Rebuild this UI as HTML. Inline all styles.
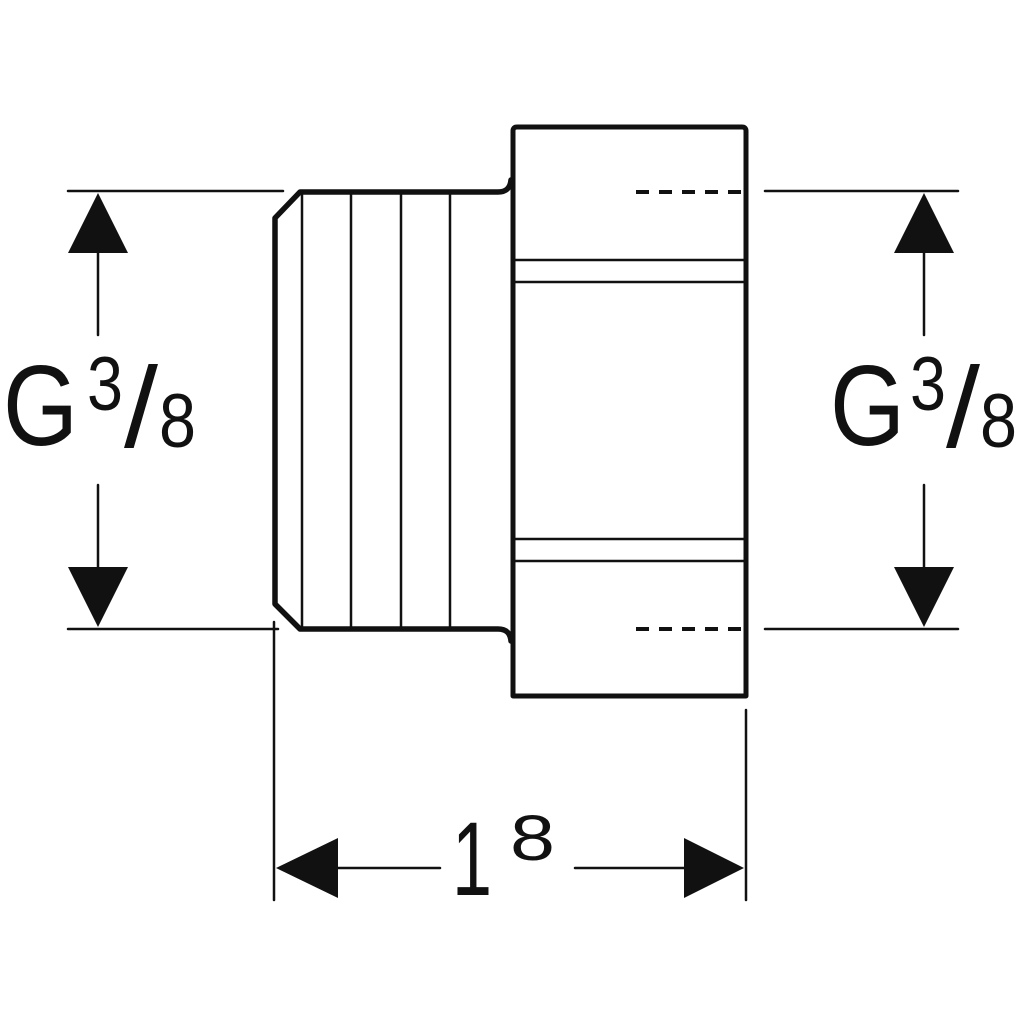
<!DOCTYPE html>
<html><head><style>html,body{margin:0;padding:0;background:#fff;}svg{display:block}</style></head>
<body>
<svg width="1024" height="1024" viewBox="0 0 1024 1024" xmlns="http://www.w3.org/2000/svg" font-family="Liberation Sans, sans-serif" fill="#111">
<g stroke="#111" fill="none" stroke-linecap="round" stroke-linejoin="round">
  <path d="M513 696 L513 131 Q513 127 517 127 L742 127 Q746 127 746 131 L746 696 Z" stroke-width="5"/>
  <path d="M511 180 Q510 192 498 192 L300 192 L275 218 L275 604 L300 629 L498 629 Q510 629 511 641" stroke-width="5.5"/>
  <g stroke-width="2.5">
    <line x1="302" y1="192" x2="302" y2="629"/>
    <line x1="351" y1="192" x2="351" y2="629"/>
    <line x1="401" y1="192" x2="401" y2="629"/>
    <line x1="450" y1="192" x2="450" y2="629"/>
    <line x1="513" y1="260" x2="744" y2="260"/>
    <line x1="513" y1="282" x2="744" y2="282"/>
    <line x1="513" y1="539" x2="744" y2="539"/>
    <line x1="513" y1="561" x2="744" y2="561"/>
  </g>
  <g stroke-width="4" stroke-dasharray="13 10" stroke-linecap="butt">
    <line x1="636" y1="192" x2="746" y2="192"/>
    <line x1="636" y1="629" x2="746" y2="629"/>
  </g>
  <g stroke-width="2.5">
    <line x1="68" y1="191" x2="283" y2="191"/>
    <line x1="68" y1="629" x2="278" y2="629"/>
    <line x1="765" y1="191" x2="958" y2="191"/>
    <line x1="765" y1="629" x2="958" y2="629"/>
    <line x1="98" y1="250" x2="98" y2="335"/>
    <line x1="98" y1="485" x2="98" y2="570"/>
    <line x1="924" y1="250" x2="924" y2="335"/>
    <line x1="924" y1="485" x2="924" y2="570"/>
    <line x1="274" y1="622" x2="274" y2="900"/>
    <line x1="746" y1="710" x2="746" y2="900"/>
    <line x1="336" y1="868" x2="440" y2="868"/>
    <line x1="575" y1="868" x2="686" y2="868"/>
  </g>
</g>
<polygon points="98,193 68,253 128,253"/>
<polygon points="98,627 68,567 128,567"/>
<polygon points="924,193 894,253 954,253"/>
<polygon points="924,627 894,567 954,567"/>
<polygon points="276,868 338,838 338,898"/>
<polygon points="744,868 684,838 684,898"/>
<text x="3" y="445" font-size="114" textLength="75" lengthAdjust="spacingAndGlyphs">G</text>
<text x="87" y="410" font-size="76" textLength="36" lengthAdjust="spacingAndGlyphs">3</text>
<text x="124" y="447" font-size="114" textLength="34" lengthAdjust="spacingAndGlyphs">/</text>
<text x="159" y="447" font-size="76" textLength="37" lengthAdjust="spacingAndGlyphs">8</text>
<text x="830" y="445" font-size="114" textLength="75" lengthAdjust="spacingAndGlyphs">G</text>
<text x="910" y="410" font-size="76" textLength="36" lengthAdjust="spacingAndGlyphs">3</text>
<text x="946" y="447" font-size="114" textLength="34" lengthAdjust="spacingAndGlyphs">/</text>
<text x="980" y="447" font-size="76" textLength="37" lengthAdjust="spacingAndGlyphs">8</text>
<text x="452" y="895" font-size="105" textLength="40" lengthAdjust="spacingAndGlyphs">1</text>
<text x="510" y="860" font-size="64" textLength="45" lengthAdjust="spacingAndGlyphs">8</text>
</svg>
</body></html>
